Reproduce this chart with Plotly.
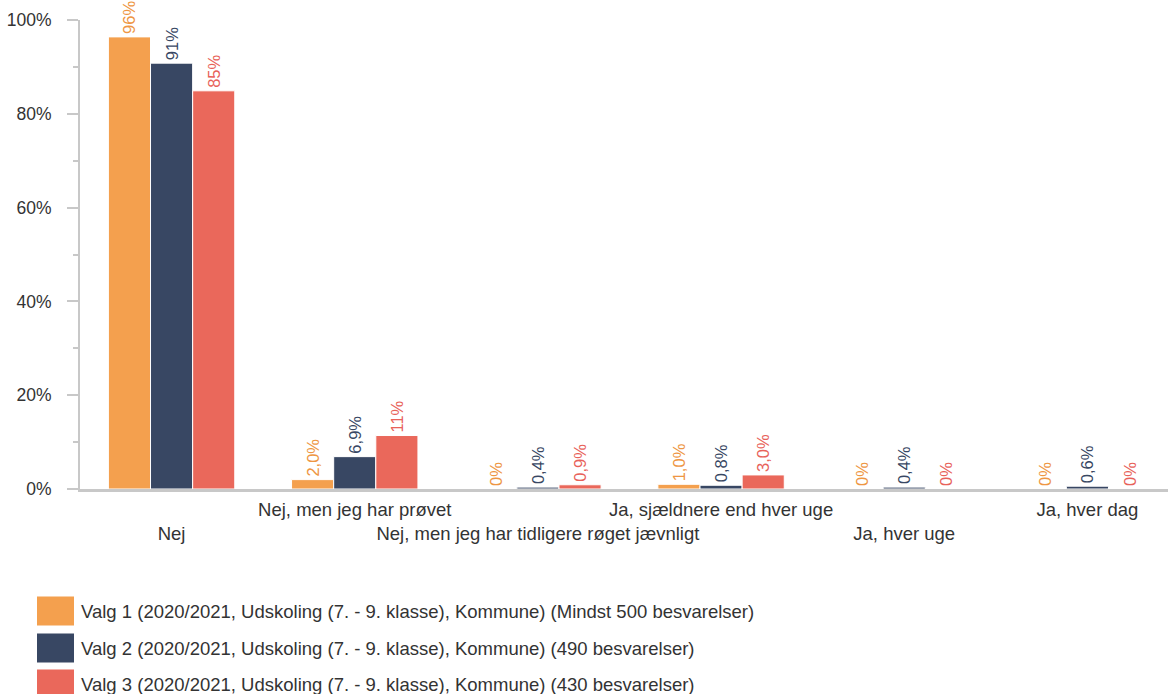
import plotly.graph_objects as go

# Survey answers (share of respondents, %)
categories = [
    "Nej",
    "Nej, men jeg har prøvet",
    "Nej, men jeg har tidligere røget jævnligt",
    "Ja, sjældnere end hver uge",
    "Ja, hver uge",
    "Ja, hver dag",
]
series_names = [
    "Valg 1 (2020/2021, Udskoling (7. - 9. klasse), Kommune) (Mindst 500 besvarelser)",
    "Valg 2 (2020/2021, Udskoling (7. - 9. klasse), Kommune) (490 besvarelser)",
    "Valg 3 (2020/2021, Udskoling (7. - 9. klasse), Kommune) (430 besvarelser)",
]
valg1 = [96.4, 2.0, 0.0, 1.0, 0.0, 0.0]
valg2 = [90.8, 6.9, 0.4, 0.8, 0.4, 0.6]
valg3 = [84.9, 11.4, 0.9, 3.0, 0.0, 0.0]
series_values = [valg1, valg2, valg3]

bar_colors = ["#F4A04E", "#384763", "#EA685B"]
label_colors = ["#EE9643", "#384763", "#E8625A"]

y_ticks = [0, 20, 40, 60, 80, 100]
y_tick_labels = [f"{t}%" for t in y_ticks]

FONT = "Liberation Sans, Arial, sans-serif"
AXIS_GREY = "#C8C8C8"
TEXT_GREY = "#333333"


def fmt(v):
    if v == 0:
        return "0%"
    if v >= 10:
        return f"{round(v):d}%"
    return f"{v:.1f}".replace(".", ",") + "%"


fig = go.Figure()
x_idx = list(range(len(categories)))
for name, vals, col, lcol in zip(series_names, series_values, bar_colors, label_colors):
    fig.add_trace(go.Bar(
        x=x_idx,
        y=vals,
        name=name,
        marker=dict(color=col, line=dict(color="white", width=1)),
        text=[fmt(v) for v in vals],
        textposition="outside",
        textangle=-90,
        textfont=dict(family=FONT, size=16.5, color=lcol),
        cliponaxis=False,
        constraintext="none",
        showlegend=False,
        hoverinfo="skip",
    ))

# Alternate category labels between two rows
tick_text = [("<br>" + c) if i % 2 == 0 else c for i, c in enumerate(categories)]

fig.update_layout(
    width=1168,
    height=694,
    margin=dict(l=80, r=0, t=20, b=205),
    paper_bgcolor="white",
    plot_bgcolor="white",
    barmode="group",
    bargap=0.31,
    bargroupgap=0,
    font=dict(family=FONT, size=17, color=TEXT_GREY),
    xaxis=dict(
        range=[-0.5, 5.44],
        tickmode="array",
        tickvals=x_idx,
        ticktext=tick_text,
        tickangle=0,
        automargin=False,
        showgrid=False,
        zeroline=False,
        showline=True,
        linecolor=AXIS_GREY,
        linewidth=3,
        ticks="",
        ticklabelstandoff=2,
        tickfont=dict(family=FONT, size=18.5, color=TEXT_GREY),
        fixedrange=True,
    ),
    yaxis=dict(
        range=[0, 100],
        tickmode="array",
        tickvals=y_ticks,
        ticktext=y_tick_labels,
        ticks="outside",
        ticklen=11,
        tickwidth=2,
        tickcolor=AXIS_GREY,
        minor=dict(dtick=10, ticks="outside", ticklen=5, tickwidth=2, tickcolor=AXIS_GREY),
        ticklabelstandoff=12,
        automargin=False,
        showgrid=False,
        zeroline=False,
        showline=True,
        linecolor=AXIS_GREY,
        linewidth=2,
        tickfont=dict(family=FONT, size=17.5, color=TEXT_GREY),
        fixedrange=True,
    ),
)

# Legend block below the chart: coloured squares with series names
plot_top, plot_bottom = 20, 489
def py(pixel_y):
    return (plot_bottom - pixel_y) / (plot_bottom - plot_top)

plot_left, plot_right = 80, 1168
def px(pixel_x):
    return (pixel_x - plot_left) / (plot_right - plot_left)

row_centers = [611, 648, 684]
for name, col, yc in zip(series_names, bar_colors, row_centers):
    fig.add_shape(
        type="rect", xref="paper", yref="paper",
        x0=px(37), x1=px(74), y0=py(yc - 14.5), y1=py(yc + 14.5),
        fillcolor=col, line=dict(width=0),
    )
    fig.add_annotation(
        xref="paper", yref="paper", x=px(79), y=py(yc),
        text=name, showarrow=False, xanchor="left", yanchor="middle",
        font=dict(family=FONT, size=18.5, color=TEXT_GREY),
    )

fig.write_html("out.html")
